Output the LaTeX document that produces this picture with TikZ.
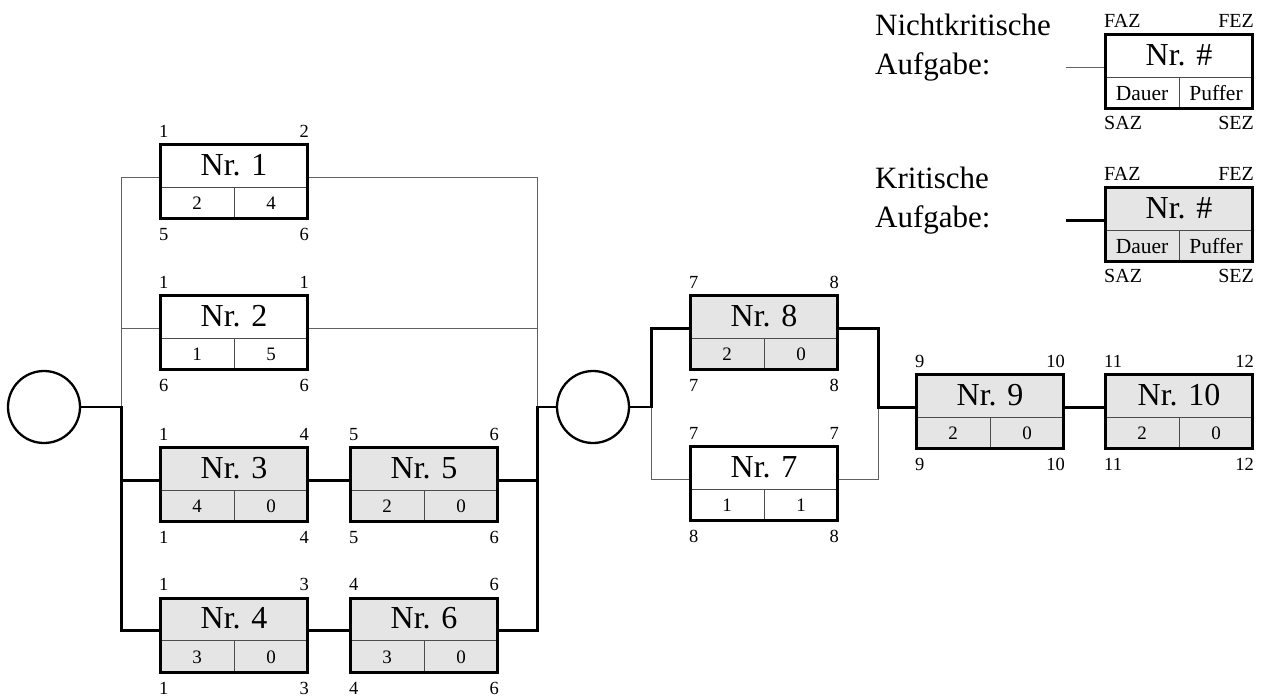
\documentclass[tikz,border=0pt]{standalone}
\usepackage{fontspec}
\setmainfont{Liberation Serif}
\usetikzlibrary{calc}
\definecolor{critfill}{gray}{0.9}
\definecolor{thingray}{gray}{0.38}
\definecolor{divgray}{gray}{0.3}
\tikzset{
  box/.style={draw=black, line width=3pt, minimum width=147pt, minimum height=74pt, inner sep=0pt},
  critbox/.style={box, fill=critfill},
  normbox/.style={box, fill=white},
  divline/.style={draw=divgray, line width=1pt},
  critline/.style={draw=black, line width=3pt, line join=miter},
  midline/.style={draw=black, line width=2pt},
  thinline/.style={draw=thingray, line width=1pt, line join=miter},
  circ/.style={circle, draw=black, fill=white, line width=2.3pt, minimum size=72pt, inner sep=0pt},
  nrtext/.style={font=\fontsize{32}{36}\selectfont, inner sep=0pt},
  valtext/.style={font=\fontsize{19}{22}\selectfont, inner sep=0pt},
  cornertext/.style={font=\fontsize{18.5}{22}\selectfont, inner sep=0pt},
  legcorner/.style={font=\fontsize{20}{22}\selectfont, inner sep=0pt},
  legtext/.style={font=\fontsize{31}{36}\selectfont, inner sep=0pt, anchor=base west},
}
\newcommand{\taskbox}[7]{%
  \node[#4] (#1) at (#2,#3) {};
  \draw[divline] ($(#1.center)+(-72,5.5)$) -- ($(#1.center)+(72,5.5)$);
  \draw[divline] ($(#1.center)+(0,5.5)$) -- ($(#1.center)+(0,35.5)$);
  \node[nrtext] (#1-nr) at ($(#1.center)+(0,-16.5)$) {#5};
  \node[valtext] (#1-d) at ($(#1.center)+(-37,22)$) {#6};
  \node[valtext] (#1-p) at ($(#1.center)+(37,22)$) {#7};
  \coordinate (#1w) at ($(#1.west)+(0,-4.5)$);
  \coordinate (#1e) at ($(#1.east)+(0,-4.5)$);
}
\newcommand{\cornerlabels}[5]{%
  \node[cornertext, anchor=base west] (#1-tl) at ($(#1.north west)+(0,-6)$) {#2};
  \node[cornertext, anchor=base east] (#1-tr) at ($(#1.north east)+(0,-6)$) {#3};
  \node[cornertext, anchor=base west] (#1-bl) at ($(#1.south west)+(0,20.5)$) {#4};
  \node[cornertext, anchor=base east] (#1-br) at ($(#1.south east)+(0,20.5)$) {#5};
}
\newcommand{\legcorners}[1]{%
  \node[legcorner, anchor=base west] (#1-tl) at ($(#1.north west)+(0,-5.6)$) {FAZ};
  \node[legcorner, anchor=base east] (#1-tr) at ($(#1.north east)+(0,-5.6)$) {FEZ};
  \node[legcorner, anchor=base west] (#1-bl) at ($(#1.south west)+(0,19.5)$) {SAZ};
  \node[legcorner, anchor=base east] (#1-br) at ($(#1.south east)+(0,19.5)$) {SEZ};
}
\begin{document}
\begin{tikzpicture}[x=1pt, y=-1pt]
\useasboundingbox (0,0) rectangle (1263,697);
% boxes
\taskbox{n1}{234}{181.5}{normbox}{Nr. 1}{2}{4}
\taskbox{n2}{234}{332.5}{normbox}{Nr. 2}{1}{5}
\taskbox{n3}{234}{484.5}{critbox}{Nr. 3}{4}{0}
\taskbox{n4}{234}{635}{critbox}{Nr. 4}{3}{0}
\taskbox{n5}{424}{484.5}{critbox}{Nr. 5}{2}{0}
\taskbox{n6}{424}{635}{critbox}{Nr. 6}{3}{0}
\taskbox{n8}{764}{332.5}{critbox}{Nr. 8}{2}{0}
\taskbox{n7}{764}{483.5}{normbox}{Nr. 7}{1}{1}
\taskbox{n9}{990}{411.5}{critbox}{Nr. 9}{2}{0}
\taskbox{n10}{1179}{411.5}{critbox}{Nr. 10}{2}{0}
\taskbox{lg1}{1179}{71.5}{normbox}{Nr. \#}{\fontsize{21.5}{24}\selectfont Dauer}{\fontsize{21.5}{24}\selectfont Puffer}
\taskbox{lg2}{1179}{224.5}{critbox}{Nr. \#}{\fontsize{21.5}{24}\selectfont Dauer}{\fontsize{21.5}{24}\selectfont Puffer}
\cornerlabels{n1}{1}{2}{5}{6}
\cornerlabels{n2}{1}{1}{6}{6}
\cornerlabels{n3}{1}{4}{1}{4}
\cornerlabels{n4}{1}{3}{1}{3}
\cornerlabels{n5}{5}{6}{5}{6}
\cornerlabels{n6}{4}{6}{4}{6}
\cornerlabels{n8}{7}{8}{7}{8}
\cornerlabels{n7}{7}{7}{8}{8}
\cornerlabels{n9}{9}{10}{9}{10}
\cornerlabels{n10}{11}{12}{11}{12}
\legcorners{lg1}
\legcorners{lg2}
% circles
\node[circ] (c1) at (44,407) {};
\node[circ] (c2) at (593,407) {};
% junctions
\coordinate (j1) at (121,407);
\coordinate (j2) at (537,407);
\coordinate (j3) at (651,407);
\coordinate (j4) at (878,407);
\coordinate (l1) at (1066,0);
% thin connectors
\draw[thinline] (n1w) -| (j1);
\draw[thinline] (n2w) -- (j1 |- n2w);
\draw[thinline] (n1e) -| (j2);
\draw[thinline] (n2e) -- (j2 |- n2e);
\draw[thinline] (j3) |- (n7w);
\draw[thinline] (n7e) -| (j4);
\draw[thinline] (l1 |- lg1w) -- (lg1w);
% critical connectors
\draw[midline] (c1.east) -- (j1);
\draw[critline] ([yshift=1pt]j1) |- (n4w);
\draw[critline] (j1 |- n3w) -- (n3w);
\draw[critline] (n3e) -- (n5w);
\draw[critline] (n4e) -- (n6w);
\draw[critline] (n5e) -- (j2 |- n5e);
\draw[critline] (n6e) -| ([yshift=1pt]j2);
\draw[midline] (j2) -- (c2.west);
\draw[midline] (c2.east) -- (j3);
\draw[critline] ([yshift=-1pt]j3) |- (n8w);
\draw[critline] (n8e) -| (j4);
\draw[critline] ([xshift=-1.5pt]j4) -- (n9w);
\draw[critline] (n9e) -- (n10w);
\draw[critline] (l1 |- lg2w) -- (lg2w);
% legend text
\node[legtext] (lt1) at (875,35) {Nichtkritische};
\node[legtext] (lt2) at (875,74) {Aufgabe:};
\node[legtext] (lt3) at (875,188) {Kritische};
\node[legtext] (lt4) at (875,227) {Aufgabe:};
\end{tikzpicture}
\end{document}
